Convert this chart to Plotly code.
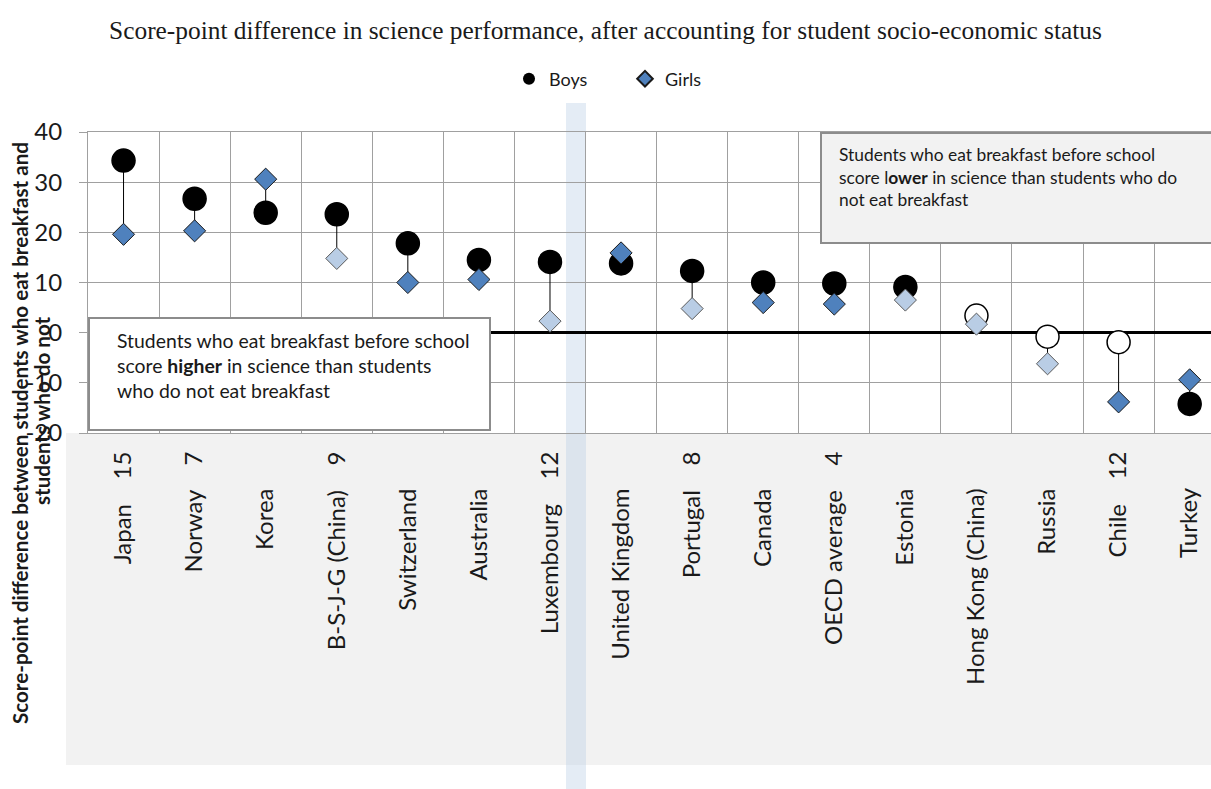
import plotly.graph_objects as go

# ---------------- data ----------------
countries = ["Japan", "Norway", "Korea", "B-S-J-G (China)", "Switzerland", "Australia",
             "Luxembourg", "United Kingdom", "Portugal", "Canada", "OECD average",
             "Estonia", "Hong Kong (China)", "Russia", "Chile", "Turkey"]
count_notes = ["15", "7", "", "9", "", "", "12", "", "8", "", "4", "", "", "", "12", ""]
boys = [34.3, 26.7, 23.9, 23.6, 17.8, 14.5, 14.1, 13.8, 12.3, 10.0, 9.8, 9.1, 3.4, -0.8, -1.9, -14.2]
girls = [19.6, 20.3, 30.6, 14.8, 10.0, 10.6, 2.3, 15.9, 4.8, 6.0, 5.7, 6.5, 1.7, -6.2, -13.8, -9.4]
boys_sig = [True, True, True, True, True, True, True, True, True, True, True, True,
            False, False, False, True]
girls_sig = [True, True, True, False, True, True, False, True, False, True, True, False,
             False, False, True, True]
y_tickvals = [-20, -10, 0, 10, 20, 30, 40]
y_ticktext = ["-20", "-10", "0", "10", "20", "30", "40"]

# ---------------- layout geometry (pixels) ----------------
W, H = 1211, 789
L, R, T, B = 88, 1211, 132, 433
FONT = "Lato"


def px(xp):
    return (xp - L) / (R - L)


def py(yp):
    return (B - yp) / (B - T)


NB = "\u00a0"
ticktext = []
for name, note in zip(countries, count_notes):
    if note:
        ticktext.append(name + NB * 4 + note)
    else:
        ticktext.append(name + NB * 6)

xi = list(range(len(countries)))

# connecting lines
lx, ly = [], []
for i, (b, g) in enumerate(zip(boys, girls)):
    lx += [i, i, None]
    ly += [b, g, None]

fig = go.Figure()
fig.add_trace(go.Scatter(x=lx, y=ly, mode="lines", line=dict(color="black", width=1),
                         showlegend=False, hoverinfo="skip"))
fig.add_trace(go.Scatter(
    x=xi, y=boys, mode="markers", name="Boys", showlegend=False,
    marker=dict(symbol="circle", size=23,
                color=["black" if s else "white" for s in boys_sig],
                line=dict(color="black", width=1.5))))
fig.add_trace(go.Scatter(
    x=xi, y=girls, mode="markers", name="Girls", showlegend=False,
    marker=dict(symbol="diamond", size=17,
                color=["#4f81bd" if s else "#b9cde5" for s in girls_sig],
                line=dict(color=["#1a1a1a" if s else "#595959" for s in girls_sig], width=1))))
# legend entries
fig.add_trace(go.Scatter(x=[None], y=[None], mode="markers", name="Boys",
                         marker=dict(symbol="circle", size=12, color="black")))
fig.add_trace(go.Scatter(x=[None], y=[None], mode="markers", name="Girls",
                         marker=dict(symbol="diamond", size=12, color="#4f81bd",
                                     line=dict(color="#1a1a1a", width=1))))

grid = "#a0a0a0"
shapes = [
    dict(type="rect", xref="paper", yref="paper", x0=px(66), x1=px(1215), y0=py(765), y1=py(433),
         fillcolor="#f2f2f2", line=dict(width=0), layer="below"),
    dict(type="rect", xref="paper", yref="paper", x0=px(566), x1=px(586), y0=py(795), y1=py(103),
         fillcolor="rgba(184,204,228,0.38)", line=dict(width=0), layer="below"),
    dict(type="rect", xref="paper", yref="paper", x0=px(89), x1=px(490), y0=py(430), y1=py(318),
         fillcolor="white", line=dict(color="#8c8c8c", width=2), layer="above"),
    dict(type="rect", xref="paper", yref="paper", x0=px(821), x1=px(1216), y0=py(243), y1=py(133),
         fillcolor="#f2f2f2", line=dict(color="#8c8c8c", width=2), layer="above"),
]

annotations = [
    dict(xref="paper", yref="paper", x=px(115), y=py(327), xanchor="left", yanchor="top",
         align="left", showarrow=False,
         text="Students who eat breakfast before school<br>score <b>higher</b> in science than students<br>who do not eat breakfast",
         font=dict(family=FONT, size=19.4, color="#1a1a1a")),
    dict(xref="paper", yref="paper", x=px(837), y=py(142), xanchor="left", yanchor="top",
         align="left", showarrow=False,
         text="Students who eat breakfast before school<br>score l<b>ower</b> in science than students who do<br>not eat breakfast",
         font=dict(family=FONT, size=17.4, color="#1a1a1a")),
    dict(xref="paper", yref="paper", x=px(20), y=py(433), xanchor="center", yanchor="middle",
         textangle=-90, showarrow=False,
         text="<b>Score-point difference between students who eat breakfast and</b>",
         font=dict(family=FONT, size=20.6, color="#1a1a1a")),
    dict(xref="paper", yref="paper", x=px(42), y=py(411), xanchor="center", yanchor="middle",
         textangle=-90, showarrow=False,
         text="<b>students who do not</b>",
         font=dict(family=FONT, size=20.6, color="#1a1a1a")),
]

fig.update_layout(
    width=W, height=H,
    margin=dict(l=L, r=W - R, t=T, b=H - B, pad=0),
    paper_bgcolor="white", plot_bgcolor="rgba(0,0,0,0)",
    title=dict(text="Score-point difference in science performance, after accounting for student socio-economic status",
               x=0.5, xref="container", xanchor="center", y=1 - 30 / H, yref="container", yanchor="middle",
               font=dict(family="Liberation Serif", size=25.4, color="#1a1a1a")),
    legend=dict(orientation="h", x=px(509), xanchor="left", y=py(79), yanchor="middle",
                font=dict(family=FONT, size=18, color="#1a1a1a"), itemsizing="constant",
                entrywidth=71, entrywidthmode="pixels",
                bgcolor="rgba(0,0,0,0)"),
    shapes=shapes, annotations=annotations,
    xaxis=dict(range=[-0.5, 15.3], tickmode="array", tickvals=xi, ticktext=ticktext,
               tickangle=-90, showgrid=False, zeroline=False, ticks="",
               showline=True, linecolor=grid, linewidth=1, mirror=True,
               ticklabelstandoff=8,
               tickfont=dict(family=FONT, size=24, color="#1a1a1a"),
               minor=dict(tickmode="linear", tick0=0.5, dtick=1, showgrid=True,
                          gridcolor=grid, gridwidth=1, ticks="")),
    yaxis=dict(range=[-20, 40], tickmode="array", tickvals=y_tickvals, ticktext=y_ticktext,
               showgrid=True, gridcolor=grid, gridwidth=1,
               zeroline=True, zerolinecolor="black", zerolinewidth=3,
               showline=True, linecolor=grid, linewidth=1,
               ticks="outside", ticklen=8, tickcolor=grid, ticklabelstandoff=12,
               tickfont=dict(family=FONT, size=24, color="#1a1a1a")),
)

fig.write_html("out.html", config={"displayModeBar": False},
               post_script="document.body.style.margin='0px';document.body.style.overflow='hidden';")
